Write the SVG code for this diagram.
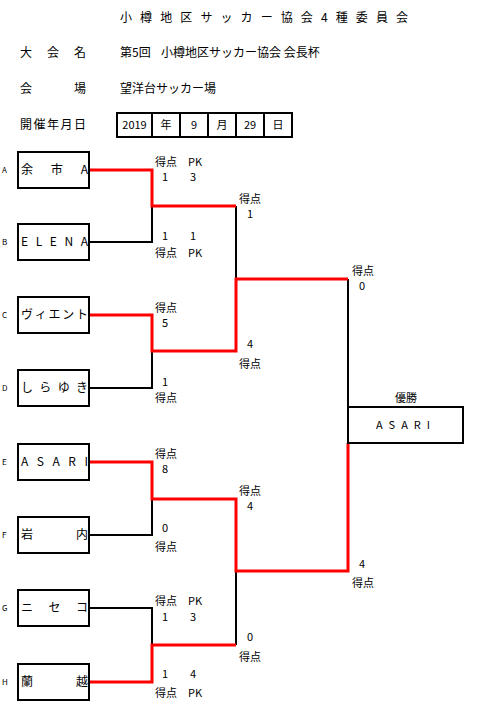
<svg xmlns="http://www.w3.org/2000/svg" width="502" height="718" viewBox="0 0 502 718">
<style>
text{font-family:"Noto Sans CJK JP","Liberation Sans",sans-serif;fill:#000}
.t{font-size:12px}
.s{font-size:11px}
.l{font-size:8px}
.c{text-anchor:middle}
.box{fill:#fff;stroke:#000;stroke-width:2}
.bk{fill:none;stroke:#000;stroke-width:2}
.rd{fill:none;stroke:#f00;stroke-width:3}
</style>
<rect width="502" height="718" fill="#fff"/>
<g id="header">
<text class="t" x="120" y="22" textLength="288" lengthAdjust="spacing">小樽地区サッカー協会4種委員会</text>
<text class="t" x="20" y="57" textLength="66" lengthAdjust="spacing">大会名</text>
<text class="t" x="120" y="57">第5回</text>
<text class="t" x="161" y="57">小樽地区サッカー協会 会長杯</text>
<text class="t" x="20" y="93" textLength="66" lengthAdjust="spacing">会場</text>
<text class="t" x="120" y="93">望洋台サッカー場</text>
<text class="t" x="20" y="129" textLength="66" lengthAdjust="spacing">開催年月日</text>
</g>
<g id="date">
<rect x="117" y="113" width="175" height="24" class="box"/>
<path class="bk" d="M152 113V137M180 113V137M208 113V137M236 113V137M264 113V137"/>
<text class="s c" x="134.5" y="129">2019</text>
<text class="s c" x="166" y="129">年</text>
<text class="s c" x="194" y="129">9</text>
<text class="s c" x="222" y="129">月</text>
<text class="s c" x="250" y="129">29</text>
<text class="s c" x="278" y="129">日</text>
</g>
<g id="connectors">
<path class="bk" d="M89 242H152V206M89 388H152V351M89 535H152V499M89 608H152V645M236 206V279M236 571V645M348 279V407"/>
<path class="rd" d="M89 170H152V206H236M89 315H152V351H236V279H348M89 462H152V499H236V571H348V443M89 682H152V645H236"/>
</g>
<g id="teamA"><text class="l" x="2" y="173">A</text><rect class="box" x="18" y="152" width="71" height="36"/><text class="t" x="21" y="174" textLength="67" lengthAdjust="spacing">余市A</text></g>
<g id="teamB"><text class="l" x="2" y="245">B</text><rect class="box" x="18" y="224" width="71" height="36"/><text class="t" x="21" y="246" textLength="67" lengthAdjust="spacing">ELENA</text></g>
<g id="teamC"><text class="l" x="2" y="318">C</text><rect class="box" x="18" y="297" width="71" height="36"/><text class="t" x="21" y="319" textLength="67" lengthAdjust="spacing">ヴィエント</text></g>
<g id="teamD"><text class="l" x="2" y="391">D</text><rect class="box" x="18" y="370" width="71" height="36"/><text class="t" x="21" y="392" textLength="67" lengthAdjust="spacing">しらゆき</text></g>
<g id="teamE"><text class="l" x="2" y="465">E</text><rect class="box" x="18" y="444" width="71" height="36"/><text class="t" x="21" y="466" textLength="67" lengthAdjust="spacing">ASARI</text></g>
<g id="teamF"><text class="l" x="2" y="538">F</text><rect class="box" x="18" y="517" width="71" height="36"/><text class="t" x="21" y="539" textLength="67" lengthAdjust="spacing">岩内</text></g>
<g id="teamG"><text class="l" x="2" y="611">G</text><rect class="box" x="18" y="590" width="71" height="36"/><text class="t" x="21" y="612" textLength="67" lengthAdjust="spacing">ニセコ</text></g>
<g id="teamH"><text class="l" x="2" y="685">H</text><rect class="box" x="18" y="664" width="71" height="36"/><text class="t" x="21" y="686" textLength="67" lengthAdjust="spacing">蘭越</text></g>
<g id="winner">
<text class="s c" x="406" y="402">優勝</text>
<rect class="box" x="348" y="407" width="115" height="36"/>
<text class="s c" x="406" y="429" letter-spacing="6">ASARI</text>
</g>
<g id="scores" class="s">
<text x="155" y="166">得点</text><text x="188" y="166">PK</text>
<text class="c" x="165" y="181">1</text><text class="c" x="193" y="181">3</text>
<text class="c" x="165" y="240">1</text><text class="c" x="193" y="240">1</text>
<text x="155" y="257">得点</text><text x="188" y="257">PK</text>
<text x="239" y="203">得点</text><text class="c" x="250" y="218">1</text>
<text x="155" y="312">得点</text><text class="c" x="165" y="327">5</text>
<text class="c" x="165" y="386">1</text><text x="155" y="402">得点</text>
<text class="c" x="250" y="348">4</text><text x="239" y="368">得点</text>
<text x="352" y="275">得点</text><text class="c" x="362" y="290">0</text>
<text x="155" y="458">得点</text><text class="c" x="165" y="473">8</text>
<text class="c" x="165" y="532">0</text><text x="155" y="551">得点</text>
<text x="239" y="495">得点</text><text class="c" x="250" y="510">4</text>
<text class="c" x="362" y="568">4</text><text x="352" y="587">得点</text>
<text x="155" y="605">得点</text><text x="188" y="605">PK</text>
<text class="c" x="165" y="621">1</text><text class="c" x="193" y="621">3</text>
<text class="c" x="250" y="641">0</text><text x="239" y="661">得点</text>
<text class="c" x="165" y="678">1</text><text class="c" x="193" y="678">4</text>
<text x="155" y="697">得点</text><text x="188" y="697">PK</text>
</g>
</svg>
